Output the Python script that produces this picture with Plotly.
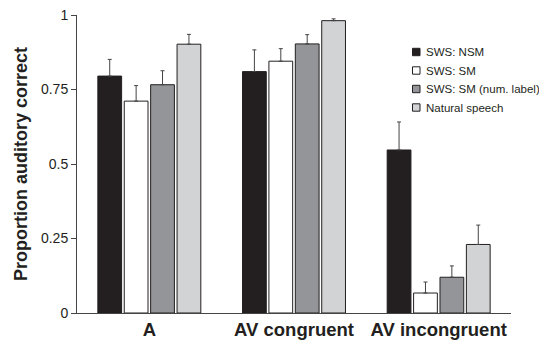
import plotly.graph_objects as go

categories = ["A", "AV congruent", "AV incongruent"]
series_names = ["SWS: NSM", "SWS: SM", "SWS: SM (num. label)", "Natural speech"]
nsm = [0.795, 0.810, 0.547]
sm = [0.711, 0.845, 0.067]
sm_num = [0.766, 0.903, 0.120]
natural = [0.902, 0.981, 0.230]
nsm_err = [0.056, 0.073, 0.094]
sm_err = [0.052, 0.042, 0.037]
sm_num_err = [0.047, 0.031, 0.038]
natural_err = [0.033, 0.006, 0.065]
y_ticks = [0, 0.25, 0.5, 0.75, 1]
y_tick_labels = ["0", "0.25", "0.5", "0.75", "1"]

colors = ["#231f20", "#ffffff", "#939598", "#d1d3d4"]
values = [nsm, sm, sm_num, natural]
errors = [nsm_err, sm_err, sm_num_err, natural_err]

# page has an 8px body margin
OFF = 8
W, H = 547 - OFF, 344 - OFF
# target plot area in page pixels: x 77..511, y 15..313
L, R, T, B = 77 - OFF, W - (511 - OFF), 15 - OFF, H - (313 - OFF)
pw, ph = W - L - R, H - T - B

def px_x(px):
    return (px - OFF - L) / pw

def px_y(py):
    return (H - B - (py - OFF)) / ph

fig = go.Figure()
for name, vals, errs, col in zip(series_names, values, errors, colors):
    fig.add_trace(go.Bar(
        x=categories, y=vals, name=name, showlegend=False,
        marker=dict(color=col, line=dict(color="#231f20", width=1)),
        error_y=dict(type="data", array=errs, arrayminus=[0] * len(errs),
                     symmetric=False, color="#444444", thickness=1, width=2),
    ))

# manual legend
shapes = []
annotations = []
legend_y = [52, 70.5, 89, 107.5]
for name, col, yc in zip(series_names, colors, legend_y):
    shapes.append(dict(type="rect", xref="paper", yref="paper",
                       x0=px_x(412.5), x1=px_x(420), y0=px_y(yc + 3.7), y1=px_y(yc - 3.7),
                       fillcolor=col, line=dict(color="#231f20", width=1)))
    annotations.append(dict(x=px_x(423.5), y=px_y(yc), xref="paper", yref="paper",
                            text=name, showarrow=False, xanchor="left", yanchor="middle",
                            font=dict(size=11.5, color="#231f20")))

fig.update_layout(
    width=W, height=H,
    margin=dict(l=L, r=R, t=T, b=B),
    plot_bgcolor="white", paper_bgcolor="white",
    barmode="group", bargap=0.27, bargroupgap=0.1,
    font=dict(family="Liberation Sans, Arial, sans-serif", color="#231f20"),
    showlegend=False,
    shapes=shapes, annotations=annotations,
    xaxis=dict(showline=True, linecolor="#444444", linewidth=1, automargin=False,
               ticks="", showgrid=False, range=[-0.5, 2.5],
               tickfont=dict(size=18.5, weight="bold")),
    yaxis=dict(showline=True, linecolor="#444444", linewidth=1, automargin=False,
               ticks="outside", ticklen=5, tickcolor="#444444",
               range=[0, 1], tickvals=y_ticks, ticktext=y_tick_labels,
               ticklabeloverflow="allow",
               showgrid=False, zeroline=False,
               tickfont=dict(size=14),
               title=dict(text="<b>Proportion auditory correct</b>",
                          font=dict(size=18), standoff=8)),
)

fig.write_html("out.html")
